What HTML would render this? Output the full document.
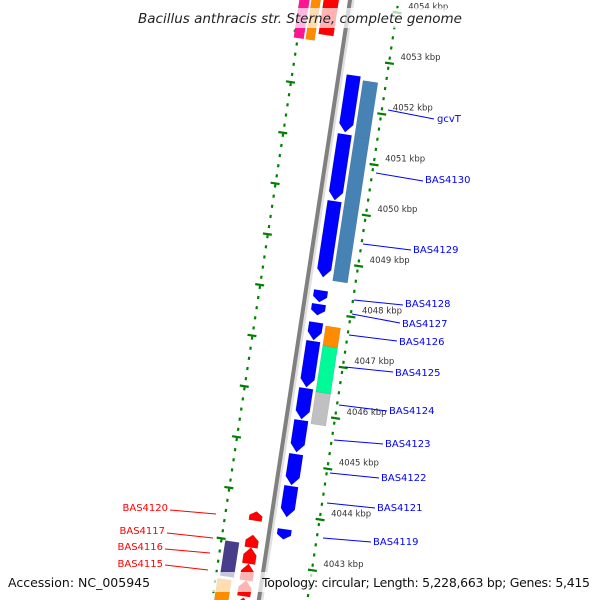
<!DOCTYPE html>
<html><head><meta charset="utf-8"><style>
body{margin:0;background:#fff;}
svg{display:block;font-family:"DejaVu Sans","Liberation Sans",sans-serif;}
</style></head><body>
<svg id="c" width="600" height="600" viewBox="0 0 600 600">
<g id="tracks"></g>
<g id="labels"></g>
<rect x="130" y="8" width="340" height="20" fill="#fff" opacity="0.7"/>
<text x="300" y="23" text-anchor="middle" font-size="13.5" font-style="italic" fill="#222">Bacillus anthracis str. Sterne, complete genome</text>
<rect x="0" y="572" width="600" height="20" fill="#fff" opacity="0.7"/>
<text x="8" y="587" font-size="12.5" fill="#111">Accession: NC_005945</text>
<text x="590" y="587" text-anchor="end" font-size="12.5" fill="#111" textLength="328">Topology: circular; Length: 5,228,663 bp; Genes: 5,415</text>
</svg>
<script>
// data
const tickKbp=[4054,4053,4052,4051,4050,4049,4048,4047,4046,4045,4044,4043];
const geneStart=[4052.66,4051.50,4050.18,4048.42,4048.15,4047.79,4047.42,4046.49,4045.86,4045.19,4044.56,4043.71];
const geneEnd=[4051.54,4050.20,4048.68,4048.19,4047.93,4047.44,4046.51,4045.88,4045.23,4044.58,4043.95,4043.51];
const cogStart=[4052.59,4051.48,4050.10,4047.75,4047.36,4046.45];
const cogEnd=[4051.48,4050.10,4048.64,4047.36,4046.45,4045.82];
const cogColor=["#4682b4","#4682b4","#4682b4","#ff8c00","#00fa9a","#c0c0c0"];
const leftStart=[4043.97,4043.51,4043.26,4042.94,4042.61,4042.27];
const leftEnd=[4043.79,4043.26,4042.94,4042.61,4042.30,4042.0];
const leftCogStart=[4043.32,4042.57,4054.3,4054.3,4054.3];
const leftCogEnd=[4042.63,4042.0,4053.36,4053.22,4053.22];
const leftCogColor=["#483d8b","#ff8c00","#ff0000","#ff8c00","#ff1493"];
const leftCogOff=[[-42,-28],[-44,-30],[-26,-11],[-38,-29],[-50,-40]];
const rightNames=["gcvT","BAS4130","BAS4129","BAS4128","BAS4127","BAS4126","BAS4125","BAS4124","BAS4123","BAS4122","BAS4121","BAS4119"];
const rightLab=[[437,122],[425,183],[413,253],[405,307],[402,327],[399,345],[395,376],[389,414],[385,447],[381,481],[377,511],[373,545]];
const rightLine=[[388,110,434,119],[376,173,423,181],[363,244,411,250],[354,300,403,305],[352,314,400,323],[349,335,397,341],[345,367,393,372],[339,405,387,411],[334,440,383,444],[330,473,379,478],[327,503,375,508],[323,538,371,542]];
const leftNames=["BAS4120","BAS4117","BAS4116","BAS4115"];
const leftLab=[[168,511],[165,534],[163,550],[163,567]];
const leftLine=[[170,510,216,514],[167,533,213,538],[165,549,210,553],[165,565,208,570]];

const NS="http://www.w3.org/2000/svg";
const T=document.getElementById('tracks'),L=document.getElementById('labels');
const yOf=k=>56+(4053-k)*50.7;
const nx=0.989,ny=0.150;
function P(k,o){const y=yOf(k);const x=350-0.152*y;return [x+nx*o,y+ny*o];}
function mk(tag,a,p){const e=document.createElementNS(NS,tag);for(const k in a)e.setAttribute(k,a[k]);(p||T).appendChild(e);return e;}
function box(k1,k2,o1,o2,col,arrowDown,arrowUp){
  let pts;const tip=Math.min(0.16,(k1-k2)*0.45);
  if(arrowDown){const kb=k2+tip;pts=[P(k1,o1),P(k1,o2),P(kb,o2),P(k2,(o1+o2)/2),P(kb,o1)];}
  else if(arrowUp){const kt=k1-tip;pts=[P(k1,(o1+o2)/2),P(kt,o2),P(k2,o2),P(k2,o1),P(kt,o1)];}
  else pts=[P(k1,o1),P(k1,o2),P(k2,o2),P(k2,o1)];
  return mk('polygon',{points:pts.map(p=>p.join(',')).join(' '),fill:col,stroke:'rgba(0,0,0,0.15)','stroke-width':0.5});
}
// tick tracks
for(let i=0;i<=65;i++){const k=4054.3-i*0.2;
  let a=P(k+0.03,48),b=P(k-0.03,48);
  let e=mk('line',{x1:a[0],y1:a[1],x2:b[0],y2:b[1],stroke:'#008000','stroke-width':2.2});
  
  a=P(k+0.03,-46);b=P(k-0.03,-46);
  e=mk('line',{x1:a[0],y1:a[1],x2:b[0],y2:b[1],stroke:'#008000','stroke-width':2.2});
  
}
tickKbp.forEach(k=>{
  let a=P(k,44),b=P(k,53);
  let e=mk('line',{x1:a[0],y1:a[1],x2:b[0],y2:b[1],stroke:'#008000','stroke-width':2.2});
  
  a=P(k+0.35,-51);b=P(k+0.35,-42);
  e=mk('line',{x1:a[0],y1:a[1],x2:b[0],y2:b[1],stroke:'#008000','stroke-width':2.2});
  
  const y=yOf(k),x=350-0.152*y;
  e=mk('text',{x:x+59,y:y+4,'font-size':8.5,fill:'#333'});e.textContent=k+' kbp';
  
});
// backbone
{const a=P(4054.4,0),b=P(4041.9,0);
 let e=mk('line',{x1:a[0]+3,y1:a[1],x2:b[0]+3,y2:b[1],stroke:'#e0e0e0','stroke-width':3});
 
 e=mk('line',{x1:a[0],y1:a[1],x2:b[0],y2:b[1],stroke:'#808080','stroke-width':4});
 }
geneStart.forEach((s,i)=>{const e=box(s,geneEnd[i],8,22,'#0000ff',true,false);
  });
cogStart.forEach((s,i)=>{const e=box(s,cogEnd[i],25,40,cogColor[i],false,false);
  });
leftStart.forEach((s,i)=>{const e=box(s,leftEnd[i],-22,-9,'#ff0000',false,true);
  });
leftCogStart.forEach((s,i)=>{const e=box(s,leftCogEnd[i],leftCogOff[i][0],leftCogOff[i][1],leftCogColor[i],false,false);
  });
// labels
rightNames.forEach((n,i)=>{const l=rightLine[i];
  let e=mk('line',{x1:l[0],y1:l[1],x2:l[2],y2:l[3],stroke:'#0000ff','stroke-width':1},L);
  
  e=mk('text',{x:rightLab[i][0],y:rightLab[i][1],'font-size':10,fill:'#0000ff'},L);e.textContent=n;
  });
leftNames.forEach((n,i)=>{const l=leftLine[i];
  let e=mk('line',{x1:l[0],y1:l[1],x2:l[2],y2:l[3],stroke:'#ff0000','stroke-width':1},L);
  
  e=mk('text',{x:leftLab[i][0],y:leftLab[i][1],'font-size':10,fill:'#ff0000','text-anchor':'end'},L);e.textContent=n;
  });
</script>
</body></html>
